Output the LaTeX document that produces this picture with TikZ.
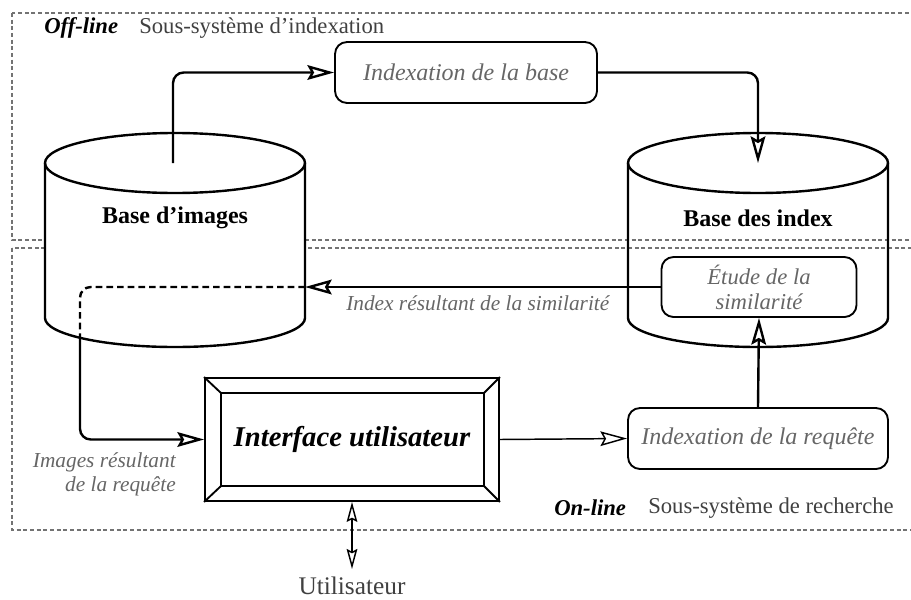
\documentclass[tikz,border=0pt]{standalone}
\usepackage{fontspec}
\setmainfont{Liberation Serif}
\usetikzlibrary{arrows.meta,calc}
\begin{document}
\begin{tikzpicture}[x=0.75pt,y=-0.75pt,
  frame/.style={draw=black!55, dash pattern=on 3pt off 2pt, line width=0.8pt},
  proc/.style={draw, rounded corners=9pt, line width=1.4pt, inner sep=0pt, align=center,
    font=\fontsize{18}{19}\selectfont\itshape, text=black!60},
  cyl/.style={line width=1.8pt},
  conn/.style={line width=1.8pt, rounded corners=8pt},
  thinc/.style={line width=1.1pt},
  tip/.style={-{Stealth[open,length=20pt,width=11pt,inset=3pt]}},
  dtip/.style={{Stealth[open,length=15pt,width=8pt,inset=2pt]}-{Stealth[open,length=15pt,width=8pt,inset=2pt]}},
  lbl/.style={inner sep=0pt, font=\fontsize{16}{18.5}\selectfont\itshape, text=black!60},
  cylbl/.style={inner sep=0pt, font=\fontsize{18}{20}\selectfont\bfseries},
  head/.style={inner sep=0pt, anchor=west, font=\fontsize{17}{19}\selectfont},
]
\useasboundingbox (0,0) rectangle (911,600);
% frames
\draw[frame] (12,13) rectangle (920,240);
\draw[frame] (12,248) rectangle (920,530);
\node[head, font=\fontsize{17}{19}\selectfont\bfseries\itshape] (offl) at (44,28) {Off-line};
\node[head, text=black!75] (offs) at (139,28) {Sous-système d’indexation};
\node[head, font=\fontsize{17}{19}\selectfont\bfseries\itshape] (onl) at (554,508) {On-line};
\node[head, text=black!75] (ons) at (648,508) {Sous-système de recherche};

% cylinders
\draw[cyl, fill=white] (45,163) -- (45,318) arc[start angle=180, end angle=0, x radius=130, y radius=29] -- (305,163);
\draw[cyl] (175,163) ellipse [x radius=130, y radius=30];
\node[cylbl] (bi) at (175,218) {Base d’images};
\draw[cyl] (628,163) -- (628,318) arc[start angle=180, end angle=0, x radius=130, y radius=29] -- (888,163);
\draw[cyl] (758,163) ellipse [x radius=130, y radius=30];
\node[cylbl] (bx) at (758,218) {Base des index};

% process boxes
\node[proc, minimum width=196.5pt, minimum height=45.75pt] (ib) at (466,72.5) {Indexation de la base};
\node[proc, minimum width=195pt, minimum height=45.75pt] (ir) at (758,438.5) {Indexation de la requête};
\node[proc, minimum width=146.25pt, minimum height=45pt, font=\fontsize{17}{18.75}\selectfont\itshape] (es) at (759,287) {Étude de la\\similarité};

% interface
\node[draw, line width=1.4pt, minimum width=220.5pt, minimum height=92.25pt, inner sep=0pt,
  font=\fontsize{21.5}{24}\selectfont\bfseries\itshape] (ui) at (352,439.5) {Interface utilisateur};
\coordinate (inw) at ($(ui.north west)+(17,16)$);
\coordinate (ine) at ($(ui.north east)+(-16,16)$);
\coordinate (isw) at ($(ui.south west)+(17,-16)$);
\coordinate (ise) at ($(ui.south east)+(-16,-16)$);
\draw[line width=1.4pt] (inw) rectangle (ise);
\draw[line width=1.4pt] (ui.north west) -- (inw) (ui.north east) -- (ine)
  (ui.south west) -- (isw) (ui.south east) -- (ise);

% connectors
\coordinate (bitop) at (173,163);
\coordinate (bxtop) at (758,163);
\coordinate (biright) at (305,287);
\coordinate (bibot) at (80,337);
\draw[conn,tip] (bitop) |- (ib.west);
\draw[conn,tip] (ib.east) -| (bxtop);
\draw[conn,tip] (es.west) -- (biright);
\draw[conn, dash pattern=on 5pt off 3pt] (biright) -| (bibot);
\draw[conn,tip] (bibot) |- (ui.west);
\draw[thinc,tip] (ui.east) -- (ir.west);
\draw[conn,tip] (ir.north) -- (es.south);

\node[inner sep=0pt, font=\fontsize{19}{21}\selectfont, text=black!75] (user) at (352,586) {Utilisateur};
\coordinate (userin) at (352,569);
\draw[thinc,dtip] (ui.south) -- (userin);

% labels
\node[lbl, anchor=west] (lsim) at (346,303) {Index résultant de la similarité};
\node[lbl, align=right, anchor=east] (limg) at (176,474.5) {Images résultant\\de la requête};
\end{tikzpicture}
\end{document}
